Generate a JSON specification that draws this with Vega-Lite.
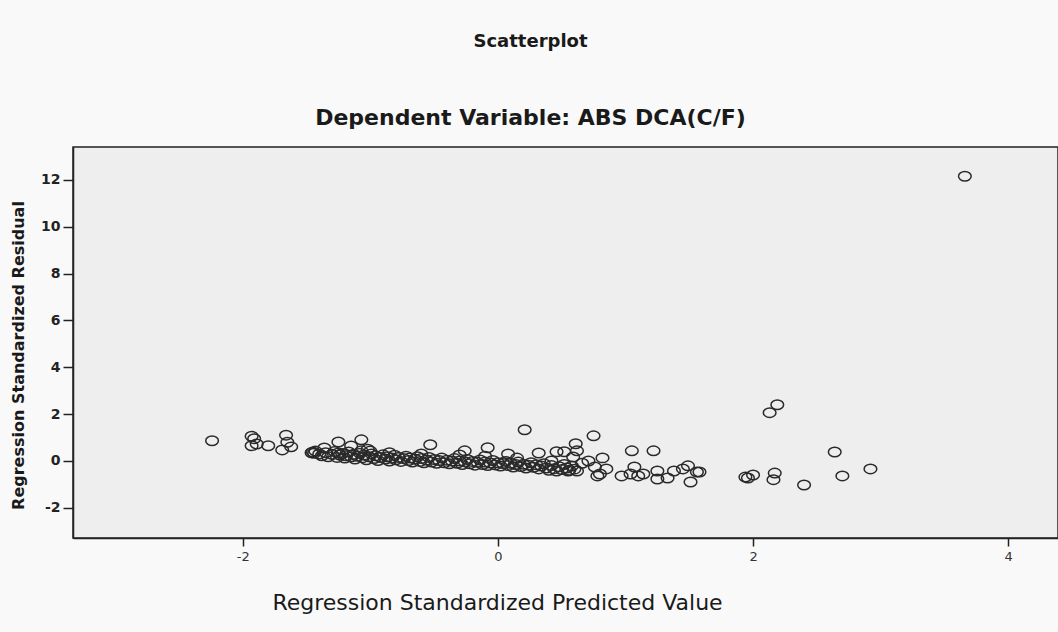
{
  "$schema": "https://vega.github.io/schema/vega-lite/v6.json",
  "autosize": "none",
  "width": 985,
  "height": 391,
  "padding": {"left": 73, "top": 147, "right": 0, "bottom": 94},
  "background": "#f9f9f9",
  "title": {
    "text": "Scatterplot",
    "subtitle": "Dependent Variable: ABS DCA(C/F)",
    "anchor": "middle",
    "dx": -35,
    "offset": 18,
    "subtitlePadding": 57,
    "font": "DejaVu Sans",
    "fontSize": 18,
    "fontWeight": "bold",
    "color": "#1a1a1a",
    "subtitleFont": "DejaVu Sans",
    "subtitleFontSize": 22,
    "subtitleFontWeight": "bold",
    "subtitleColor": "#1a1a1a"
  },
  "config": {
    "view": {"fill": "#eeeeee", "stroke": "#222", "strokeWidth": 1.5},
    "axis": {"grid": false, "domainColor": "#222", "domainWidth": 1.5, "tickColor": "#222", "tickWidth": 1.5}
  },
  "data": {"values": [
    {"x": -2.24, "y": 0.86}, {"x": -1.93, "y": 1.05}, {"x": -1.91, "y": 0.95}, {"x": -1.93, "y": 0.65}, {"x": -1.89, "y": 0.72},
    {"x": -1.80, "y": 0.65}, {"x": -1.66, "y": 1.10}, {"x": -1.65, "y": 0.80}, {"x": -1.69, "y": 0.47}, {"x": -1.62, "y": 0.60},
    {"x": -1.45, "y": 0.38}, {"x": -1.43, "y": 0.42}, {"x": -1.46, "y": 0.35}, {"x": -1.44, "y": 0.33}, {"x": -1.36, "y": 0.55},
    {"x": -1.25, "y": 0.81}, {"x": -1.25, "y": 0.34}, {"x": -1.15, "y": 0.64}, {"x": -1.07, "y": 0.90}, {"x": -1.07, "y": 0.43},
    {"x": -1.02, "y": 0.50}, {"x": -0.53, "y": 0.69}, {"x": -0.26, "y": 0.43}, {"x": -0.08, "y": 0.56}, {"x": 0.08, "y": 0.30},
    {"x": 0.21, "y": 1.33}, {"x": 0.32, "y": 0.34}, {"x": 0.46, "y": 0.39}, {"x": 0.52, "y": 0.39}, {"x": 0.61, "y": 0.73},
    {"x": 0.62, "y": 0.43}, {"x": 0.59, "y": 0.17}, {"x": 0.42, "y": 0.0}, {"x": 0.55, "y": -0.43}, {"x": 0.62, "y": -0.43},
    {"x": 0.75, "y": 1.07}, {"x": 1.05, "y": 0.43}, {"x": 1.22, "y": 0.43}, {"x": 0.71, "y": 0.0}, {"x": 0.82, "y": 0.13},
    {"x": 0.76, "y": -0.26}, {"x": 0.78, "y": -0.64}, {"x": 0.85, "y": -0.34}, {"x": 0.80, "y": -0.56}, {"x": 0.66, "y": -0.1},
    {"x": 0.97, "y": -0.64}, {"x": 1.04, "y": -0.56}, {"x": 1.07, "y": -0.26}, {"x": 1.10, "y": -0.64}, {"x": 1.14, "y": -0.56},
    {"x": 1.25, "y": -0.43}, {"x": 1.25, "y": -0.77}, {"x": 1.33, "y": -0.73}, {"x": 1.38, "y": -0.43}, {"x": 1.45, "y": -0.34},
    {"x": 1.49, "y": -0.21}, {"x": 1.56, "y": -0.47}, {"x": 1.51, "y": -0.90}, {"x": 1.58, "y": -0.47}, {"x": 1.94, "y": -0.69},
    {"x": 1.96, "y": -0.73}, {"x": 2.00, "y": -0.60}, {"x": 2.16, "y": -0.80}, {"x": 2.17, "y": -0.52}, {"x": 2.13, "y": 2.06},
    {"x": 2.19, "y": 2.40}, {"x": 2.40, "y": -1.03}, {"x": 2.64, "y": 0.38}, {"x": 2.70, "y": -0.64}, {"x": 2.92, "y": -0.34},
    {"x": 3.66, "y": 12.15},
    {"x": -1.40, "y": 0.30}, {"x": -1.38, "y": 0.22}, {"x": -1.35, "y": 0.35}, {"x": -1.33, "y": 0.18}, {"x": -1.30, "y": 0.28},
    {"x": -1.28, "y": 0.40}, {"x": -1.26, "y": 0.15}, {"x": -1.24, "y": 0.25}, {"x": -1.22, "y": 0.32}, {"x": -1.20, "y": 0.12},
    {"x": -1.19, "y": 0.22}, {"x": -1.17, "y": 0.38}, {"x": -1.15, "y": 0.18}, {"x": -1.13, "y": 0.28}, {"x": -1.12, "y": 0.08},
    {"x": -1.10, "y": 0.20}, {"x": -1.08, "y": 0.33}, {"x": -1.06, "y": 0.14}, {"x": -1.05, "y": 0.25}, {"x": -1.03, "y": 0.05},
    {"x": -1.01, "y": 0.18}, {"x": -0.99, "y": 0.30}, {"x": -0.97, "y": 0.10}, {"x": -0.96, "y": 0.22}, {"x": -0.94, "y": 0.02},
    {"x": -0.92, "y": 0.15}, {"x": -0.90, "y": 0.26}, {"x": -0.88, "y": 0.08}, {"x": -0.87, "y": 0.18}, {"x": -0.85, "y": 0.00},
    {"x": -0.83, "y": 0.12}, {"x": -0.81, "y": 0.24}, {"x": -0.80, "y": 0.05}, {"x": -0.78, "y": 0.15}, {"x": -0.76, "y": -0.02},
    {"x": -0.74, "y": 0.10}, {"x": -0.72, "y": 0.20}, {"x": -0.70, "y": 0.02}, {"x": -0.69, "y": 0.12}, {"x": -0.67, "y": -0.05},
    {"x": -0.65, "y": 0.08}, {"x": -0.63, "y": 0.18}, {"x": -0.61, "y": -0.02}, {"x": -0.60, "y": 0.10}, {"x": -0.58, "y": -0.08},
    {"x": -0.56, "y": 0.04}, {"x": -0.54, "y": 0.15}, {"x": -0.52, "y": -0.05}, {"x": -0.50, "y": 0.06}, {"x": -0.48, "y": -0.10},
    {"x": -0.46, "y": 0.02}, {"x": -0.44, "y": 0.12}, {"x": -0.42, "y": -0.08}, {"x": -0.40, "y": 0.03}, {"x": -0.38, "y": -0.12},
    {"x": -0.36, "y": 0.00}, {"x": -0.34, "y": 0.10}, {"x": -0.32, "y": -0.10}, {"x": -0.30, "y": 0.00}, {"x": -0.28, "y": -0.15},
    {"x": -0.26, "y": -0.04}, {"x": -0.24, "y": 0.06}, {"x": -0.22, "y": -0.12}, {"x": -0.20, "y": -0.02}, {"x": -0.18, "y": -0.18},
    {"x": -0.16, "y": -0.06}, {"x": -0.14, "y": 0.04}, {"x": -0.12, "y": -0.15}, {"x": -0.10, "y": -0.05}, {"x": -0.08, "y": -0.20},
    {"x": -0.06, "y": -0.09}, {"x": -0.04, "y": 0.02}, {"x": -0.02, "y": -0.17}, {"x": 0.00, "y": -0.08}, {"x": 0.02, "y": -0.22},
    {"x": 0.04, "y": -0.11}, {"x": 0.06, "y": -0.02}, {"x": 0.08, "y": -0.20}, {"x": 0.10, "y": -0.10}, {"x": 0.12, "y": -0.26},
    {"x": 0.14, "y": -0.15}, {"x": 0.16, "y": -0.05}, {"x": 0.18, "y": -0.24}, {"x": 0.20, "y": -0.14}, {"x": 0.22, "y": -0.30},
    {"x": 0.24, "y": -0.18}, {"x": 0.26, "y": -0.08}, {"x": 0.28, "y": -0.27}, {"x": 0.30, "y": -0.16}, {"x": 0.32, "y": -0.34},
    {"x": 0.34, "y": -0.22}, {"x": 0.36, "y": -0.12}, {"x": 0.38, "y": -0.30}, {"x": 0.40, "y": -0.40}, {"x": 0.42, "y": -0.20},
    {"x": 0.44, "y": -0.33}, {"x": 0.46, "y": -0.43}, {"x": 0.48, "y": -0.25}, {"x": 0.50, "y": -0.37}, {"x": 0.52, "y": -0.15},
    {"x": 0.54, "y": -0.30}, {"x": 0.56, "y": -0.40}, {"x": 0.58, "y": -0.22}, {"x": 0.60, "y": -0.35},
    {"x": -1.00, "y": 0.42}, {"x": -0.85, "y": 0.35}, {"x": -0.60, "y": 0.30}, {"x": -0.30, "y": 0.25}, {"x": -0.10, "y": 0.20},
    {"x": 0.15, "y": 0.12}
  ]},
  "mark": {"type": "point", "shape": "M-1,0A1,0.75,0,1,0,1,0A1,0.75,0,1,0,-1,0Z", "filled": false, "stroke": "#2a2a2a", "strokeWidth": 1.5, "size": 160, "opacity": 1},
  "encoding": {
    "x": {
      "field": "x", "type": "quantitative",
      "scale": {"domain": [-3.33, 4.39], "nice": false, "zero": false},
      "axis": {
        "title": "Regression Standardized Predicted Value",
        "values": [-2, 0, 2, 4],
        "labelExpr": "'' + datum.value",
        "tickSize": 8,
        "labelPadding": 4,
        "labelFont": "DejaVu Sans",
        "labelFontSize": 13,
        "labelColor": "#333",
        "titleFont": "DejaVu Sans",
        "titleFontSize": 22,
        "titleFontWeight": "normal",
        "titleColor": "#1a1a1a",
        "titleX": 424,
        "titleY": 64,
        "titleBaseline": "middle",
        "titleAnchor": "start",
        "titleAlign": "center"
      }
    },
    "y": {
      "field": "y", "type": "quantitative",
      "scale": {"domain": [-3.29, 13.4], "nice": false, "zero": false},
      "axis": {
        "title": "Regression Standardized Residual",
        "values": [-2, 0, 2, 4, 6, 8, 10, 12],
        "labelExpr": "'' + datum.value",
        "tickSize": 10,
        "labelPadding": 3,
        "labelFont": "DejaVu Sans",
        "labelFontSize": 14,
        "labelFontWeight": "bold",
        "labelColor": "#222",
        "titleFont": "DejaVu Sans",
        "titleFontSize": 16,
        "titleFontWeight": "bold",
        "titleColor": "#1a1a1a",
        "titleX": -55,
        "titleY": 208,
        "titleAngle": -90,
        "titleBaseline": "middle",
        "titleAlign": "center",
        "titleAnchor": "start"
      }
    }
  }
}
